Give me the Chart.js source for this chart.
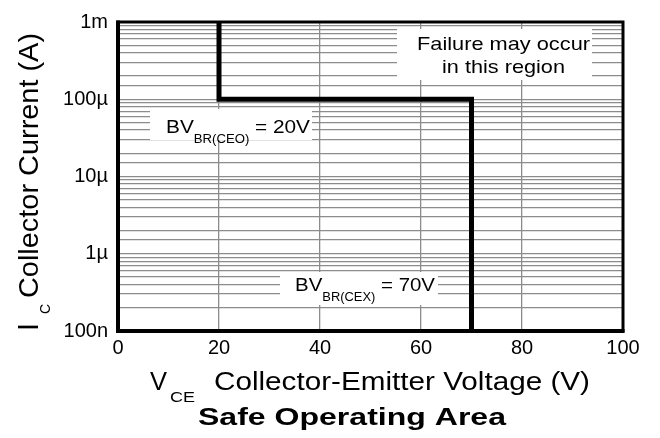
<!DOCTYPE html>
<html>
<head>
<meta charset="utf-8">
<script src="https://cdn.jsdelivr.net/npm/chart.js@4.4.1/dist/chart.umd.min.js"></script>
<style>
	html, body { margin: 0; padding: 0; background: #fff; }
	#wrap { width: 660px; height: 438px; }
</style>
</head>
<body>
<div id="wrap"><canvas id="chart" width="660" height="438"></canvas></div>
<script>
// safe operating area boundary (V, A)
const voltage = [20, 20, 70, 70];
const current = [1e-3, 1e-4, 1e-4, 1e-7];

const xTickStep = 20;
const yTickValues = [1e-7, 1e-6, 1e-5, 1e-4, 1e-3];
const yTickLabels = ["100n", "1µ", "10µ", "100µ", "1m"];

const FONT = "'Liberation Sans', Arial, Helvetica, sans-serif";
const GRID = "#8c8c8c";

function yLabel(value) {
	const i = yTickValues.findIndex((t) => Math.abs(Math.log10(t) - Math.log10(value)) < 1e-6);
	// empty string keeps the minor grid line, null would hide it
	return i >= 0 ? yTickLabels[i] : "";
}

// draw text squeezed/stretched horizontally to a given width
function fitText(ctx, text, x, y, size, width, align, weight) {
	ctx.save();
	ctx.font = `${weight || "normal"} ${size}px ${FONT}`;
	const w = ctx.measureText(text).width;
	const left = align === "center" ? x - width / 2 : x;
	ctx.translate(left, y);
	ctx.scale(width / w, 1);
	ctx.textAlign = "left";
	ctx.textBaseline = "alphabetic";
	ctx.fillStyle = "#000";
	ctx.fillText(text, 0, 0);
	ctx.restore();
}

// several runs in a row (for subscripts), scaled together to width
function runText(ctx, parts, x, y, width) {
	ctx.save();
	let total = 0;
	for (const p of parts) {
		ctx.font = `${p.size}px ${FONT}`;
		p.w = ctx.measureText(p.text).width;
		total += p.w;
	}
	ctx.translate(x, y);
	ctx.scale(width / total, 1);
	ctx.textBaseline = "alphabetic";
	ctx.fillStyle = "#000";
	let cx = 0;
	for (const p of parts) {
		ctx.font = `${p.size}px ${FONT}`;
		ctx.fillText(p.text, cx, p.dy || 0);
		cx += p.w;
	}
	ctx.restore();
}

const labelBoxes = {
	id: "labelBoxes",
	beforeDatasetsDraw(chart) {
		const ctx = chart.ctx;
		ctx.save();
		ctx.fillStyle = "#fff";
		ctx.fillRect(150, 109, 162, 31);
		ctx.fillRect(280, 272, 158, 33);
		ctx.fillRect(397, 29, 195, 51);
		ctx.restore();
	},
	afterDraw(chart) {
		const ctx = chart.ctx;
		const a = chart.chartArea;

		// frame
		ctx.save();
		ctx.strokeStyle = "#000";
		ctx.lineWidth = 3;
		ctx.strokeRect(a.left, a.top, a.right - a.left, a.bottom - a.top);
		ctx.lineWidth = 4;
		ctx.beginPath();
		ctx.moveTo(a.left, a.top - 1.5);
		ctx.lineTo(a.left, a.bottom);
		ctx.lineTo(a.right + 1.5, a.bottom);
		ctx.stroke();
		ctx.restore();

		// annotations
		runText(ctx, [
			{ text: "BV", size: 19 },
			{ text: "BR(CEO)", size: 12, dy: 10 },
			{ text: " = 20V", size: 19 }
		], 166, 133, 144);
		runText(ctx, [
			{ text: "BV", size: 19 },
			{ text: "BR(CEX)", size: 12, dy: 10 },
			{ text: " = 70V", size: 19 }
		], 295, 291, 140);
		fitText(ctx, "Failure may occur", 503.5, 50, 19, 173, "center");
		fitText(ctx, "in this region", 503.5, 73, 19, 123, "center");

		// x axis title
		fitText(ctx, "V", 150, 390, 25, 17);
		fitText(ctx, "CE", 170, 402, 15, 25);
		fitText(ctx, "Collector-Emitter Voltage (V)", 214, 390, 25, 376);

		// y axis title
		ctx.save();
		ctx.translate(38, 331);
		ctx.rotate(-Math.PI / 2);
		fitText(ctx, "I", 0, 0, 29, 8);
		fitText(ctx, "C", 17, 12, 14, 10);
		fitText(ctx, "Collector Current (A)", 33, 0, 28, 265);
		ctx.restore();

		// chart title
		fitText(ctx, "Safe Operating Area", 352, 425, 23, 308, "center", "bold");
	}
};

new Chart(document.getElementById("chart"), {
	type: "scatter",
	data: {
		datasets: [{
			data: voltage.map((v, i) => ({ x: v, y: current[i] })),
			showLine: true,
			borderColor: "#000",
			borderWidth: 5,
			borderJoinStyle: "miter",
			pointRadius: 0,
			tension: 0
		}]
	},
	options: {
		responsive: false,
		animation: false,
		layout: { padding: { top: 14, right: 37, left: 0, bottom: 0 } },
		plugins: { legend: { display: false }, tooltip: { enabled: false } },
		scales: {
			x: {
				type: "linear",
				min: 0,
				max: 100,
				border: { display: false },
				grid: { color: GRID, lineWidth: 1.3, drawTicks: false },
				ticks: { stepSize: xTickStep, padding: 5, color: "#000", font: { family: FONT, size: 20 } },
				afterFit: (s) => { s.height = 107; }
			},
			y: {
				type: "logarithmic",
				min: 1e-7,
				max: 1e-3,
				border: { display: false },
				grid: { color: GRID, lineWidth: 1.3, drawTicks: false },
				ticks: {
					autoSkip: false,
					padding: 10,
					color: "#000",
					font: { family: FONT, size: 20 },
					callback: (v) => yLabel(v)
				},
				afterFit: (s) => { s.width = 118; }
			}
		}
	},
	plugins: [labelBoxes]
});
</script>
</body>
</html>
